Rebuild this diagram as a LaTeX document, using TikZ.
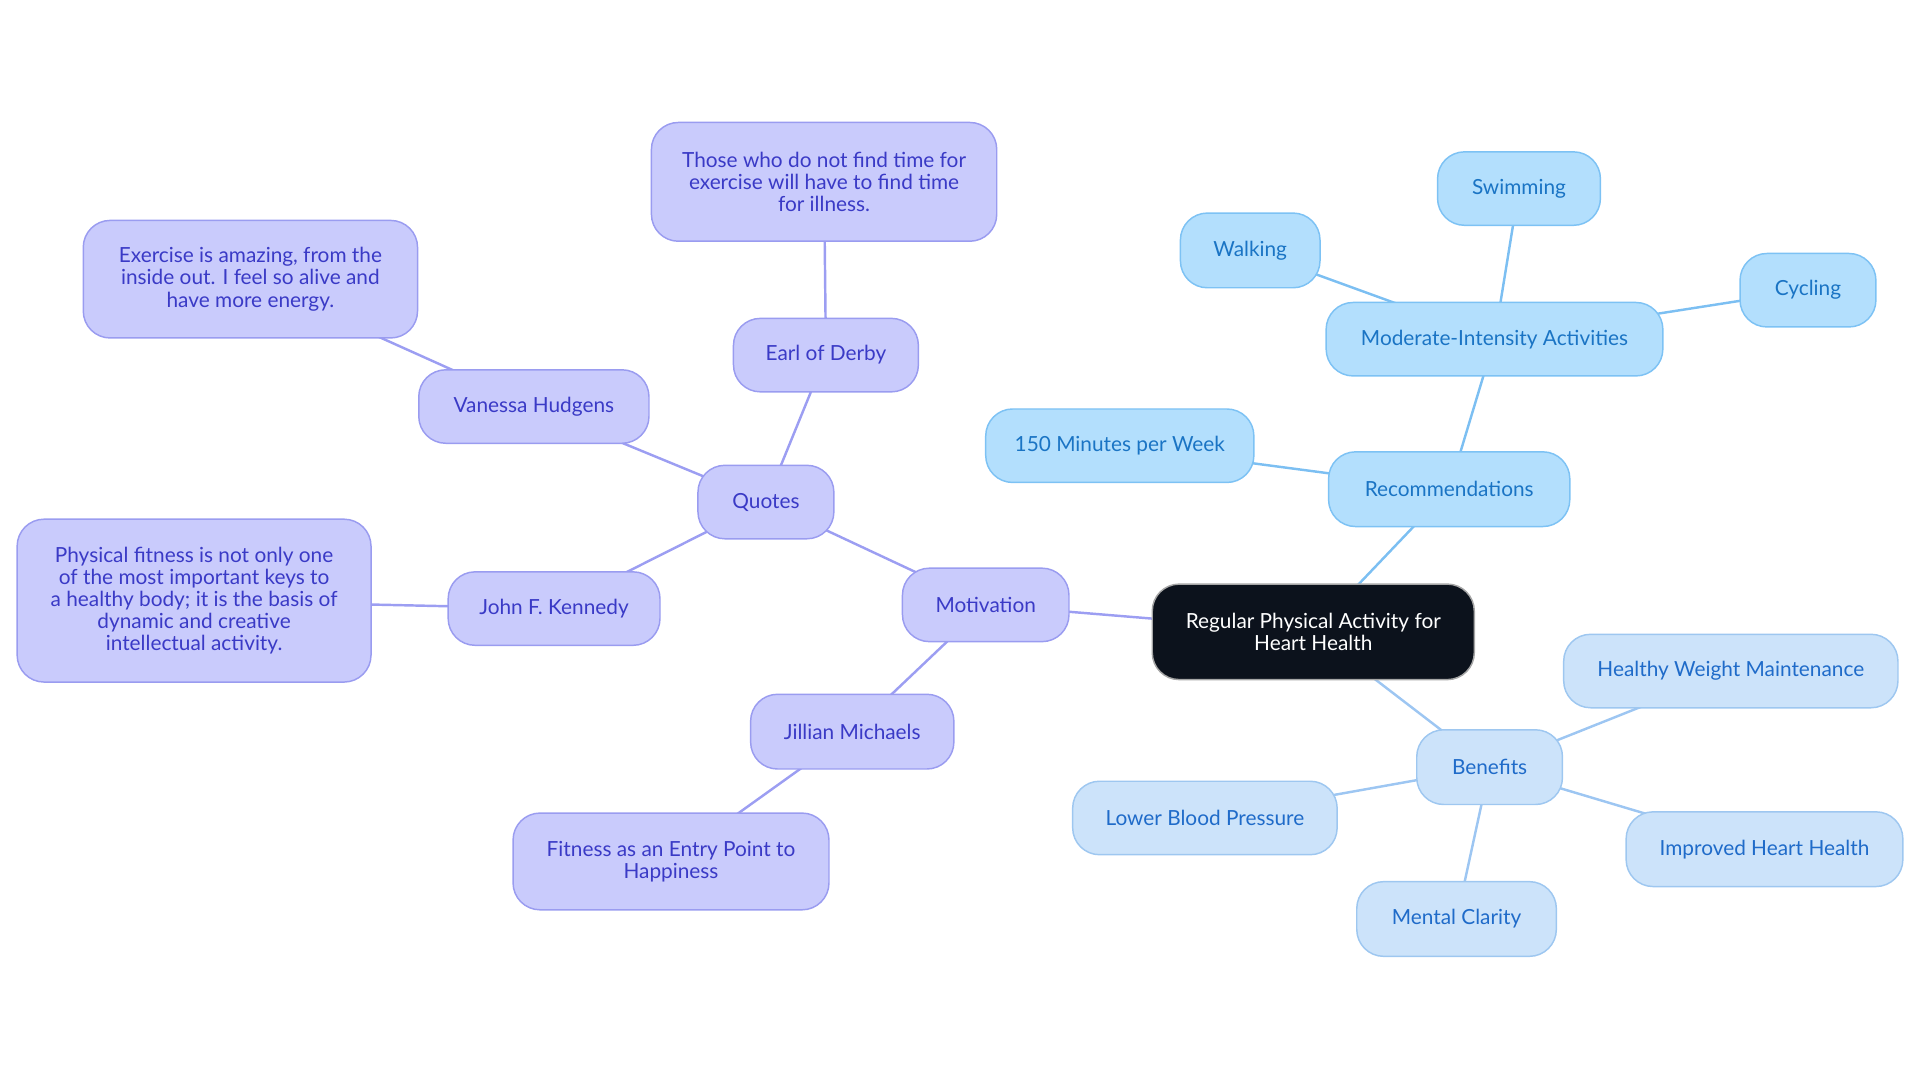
\documentclass[tikz,border=0pt]{standalone}
\usepackage{fontspec}
\setmainfont{Lato}
\usetikzlibrary{backgrounds}
\definecolor{pfill}{HTML}{C9CBFC}
\definecolor{pdraw}{HTML}{9A9CF0}
\definecolor{ptext}{HTML}{3A3AC6}
\definecolor{pedge}{HTML}{9C9EF2}
\definecolor{bfill}{HTML}{B3DFFD}
\definecolor{bdraw}{HTML}{7DC2F4}
\definecolor{btext}{HTML}{1A74C4}
\definecolor{bedge}{HTML}{7CBFF2}
\definecolor{lfill}{HTML}{CCE3FA}
\definecolor{ldraw}{HTML}{9EC7F0}
\definecolor{ltext}{HTML}{1F6BC9}
\definecolor{ledge}{HTML}{9DC6F2}
\definecolor{cfill}{HTML}{0C121C}
\tikzset{
  x=1pt, y=-1pt,
  base/.style={rounded corners=22pt, line width=1.2pt, align=center, inner sep=0pt,
    font=\fontsize{17}{18}\selectfont},
  pnode/.style={base, fill=pfill, draw=pdraw, text=ptext},
  bnode/.style={base, fill=bfill, draw=bdraw, text=btext},
  lnode/.style={base, fill=lfill, draw=ldraw, text=ltext},
  cnode/.style={base, fill=cfill, draw=gray!70, text=white},
  pe/.style={draw=pedge, line width=2pt},
  be/.style={draw=bedge, line width=2pt},
  le/.style={draw=ledge, line width=2pt},
}
\newcommand{\nd}[6]{\node[#1, minimum width=#4pt, minimum height=#5pt] (#2) at #3 {#6};}
\begin{document}
\begin{tikzpicture}
\useasboundingbox (0,0) rectangle (1568,884.45);
\nd{cnode}{central}{(1072.5,516)}{263}{78}{Regular Physical Activity for\\Heart Health}
\nd{pnode}{motivation}{(805,494)}{136}{60}{Motivation}
\nd{pnode}{quotes}{(625.5,410)}{111}{60}{Quotes}
\nd{pnode}{earl}{(674.5,290)}{151}{60}{Earl of Derby}
\nd{pnode}{earlq}{(673,148.5)}{282}{97}{Those who do not find time for\\exercise will have to find time\\for illness.}
\nd{pnode}{vanessa}{(436,332)}{188}{60}{Vanessa Hudgens}
\nd{pnode}{vanessaq}{(204.5,228)}{273}{96}{Exercise is amazing, from the\\inside out. I feel so alive and\\have more energy.}
\nd{pnode}{jfk}{(452.5,497)}{173}{60}{John F. Kennedy}
\nd{pnode}{jfkq}{(158.5,490.5)}{289}{133}{Physical fitness is not only one\\of the most important keys to\\a healthy body; it is the basis of\\dynamic and creative\\intellectual activity.}
\nd{pnode}{jillian}{(696,597.5)}{166}{61}{Jillian Michaels}
\nd{pnode}{fitness}{(548,703.5)}{258}{79}{Fitness as an Entry Point to\\Happiness}
\nd{bnode}{recs}{(1183.5,399.5)}{197}{61}{Recommendations}
\nd{bnode}{min150}{(914.5,364)}{219}{60}{150 Minutes per Week}
\nd{bnode}{moderate}{(1220.5,277)}{275}{60}{Moderate-Intensity Activities}
\nd{bnode}{walking}{(1021,204.5)}{114}{61}{Walking}
\nd{bnode}{swimming}{(1240.5,154)}{133}{60}{Swimming}
\nd{bnode}{cycling}{(1476.5,237)}{111}{60}{Cycling}
\nd{lnode}{benefits}{(1216.5,626.5)}{119}{61}{Benefits}
\nd{lnode}{hwm}{(1413.5,548)}{273}{60}{Healthy Weight Maintenance}
\nd{lnode}{ihh}{(1441,693.5)}{226}{61}{Improved Heart Health}
\nd{lnode}{lbp}{(984,668)}{216}{60}{Lower Blood Pressure}
\nd{lnode}{mental}{(1189.5,750.5)}{163}{61}{Mental Clarity}
\begin{scope}[on background layer]
\draw[pe] (central.center) -- (motivation.center);
\draw[pe] (motivation.center) -- (quotes.center);
\draw[pe] (motivation.center) -- (jillian.center);
\draw[pe] (jillian.center) -- (fitness.center);
\draw[pe] (quotes.center) -- (earl.center);
\draw[pe] (earl.center) -- (earlq.center);
\draw[pe] (quotes.center) -- (vanessa.center);
\draw[pe] (vanessa.center) -- (vanessaq.center);
\draw[pe] (quotes.center) -- (jfk.center);
\draw[pe] (jfk.center) -- (jfkq.center);
\draw[be] (central.center) -- (recs.center);
\draw[be] (recs.center) -- (min150.center);
\draw[be] (recs.center) -- (moderate.center);
\draw[be] (moderate.center) -- (walking.center);
\draw[be] (moderate.center) -- (swimming.center);
\draw[be] (moderate.center) -- (cycling.center);
\draw[le] (central.center) -- (benefits.center);
\draw[le] (benefits.center) -- (hwm.center);
\draw[le] (benefits.center) -- (ihh.center);
\draw[le] (benefits.center) -- (lbp.center);
\draw[le] (benefits.center) -- (mental.center);
\end{scope}
\end{tikzpicture}
\end{document}
